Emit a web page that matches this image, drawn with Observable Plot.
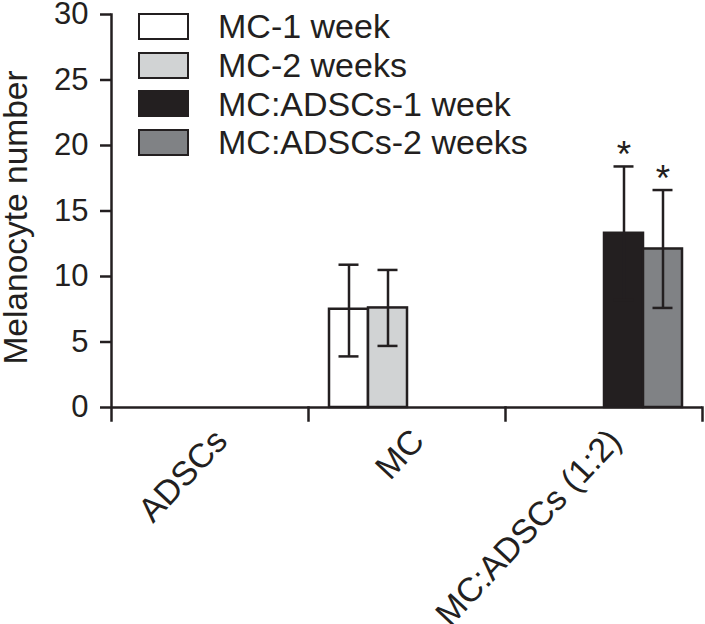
<!DOCTYPE html>
<html><head><meta charset="utf-8">
<script src="https://cdn.jsdelivr.net/npm/d3@7"></script>
<script src="https://cdn.jsdelivr.net/npm/@observablehq/plot@0.6"></script>
<style>
body{margin:0;background:#fff;}
#wrap{position:relative;width:705px;height:624px;font-family:"Liberation Sans",Arial,sans-serif;color:#231f20;}
#legend{position:absolute;left:138px;top:7px;}
.row{display:flex;align-items:center;height:38.7px;}
.sw{box-sizing:border-box;width:51px;height:27px;border:2.5px solid #231f20;margin-right:29px;}
.lab{font-size:34px;line-height:1;white-space:nowrap;}
</style></head><body><div id="wrap"><div id="legend"></div></div>
<script>
const categories = ["ADSCs", "MC", "MC:ADSCs (1:2)"];
const series = ["MC-1 week", "MC-2 weeks", "MC:ADSCs-1 week", "MC:ADSCs-2 weeks"];
const seriesColors = ["#ffffff", "#d1d3d4", "#231f20", "#808285"];
const barCategory = ["MC", "MC", "MC:ADSCs (1:2)", "MC:ADSCs (1:2)"];
const means = [7.5, 7.6, 13.3, 12.1];
const errLow = [3.9, 4.7, 8.2, 7.6];
const errHigh = [10.9, 10.5, 18.4, 16.6];
const sigMarks = ["", "", "*", "*"];
const yTicks = [0, 5, 10, 15, 20, 25, 30];
const yLabel = "Melanocyte number";

const ink = "#231f20";
const data = series.map((s, i) => ({series: s, category: barCategory[i], mean: means[i], low: errLow[i], high: errHigh[i], mark: sigMarks[i]}));

const chart = Plot.plot({
  width: 705, height: 624,
  marginLeft: 111, marginRight: 3, marginTop: 14, marginBottom: 204,
  style: {fontFamily: '"Liberation Sans", Arial, sans-serif', background: "transparent", color: ink, overflow: "visible"},
  fx: {domain: categories, padding: 0, axis: null},
  x: {domain: series, paddingInner: 0, paddingOuter: 0.5, axis: null},
  y: {domain: [0, 30], insetBottom: 13},
  color: {domain: series, range: seriesColors},
  marks: [
    Plot.barY(data, {fx: "category", x: "series", y: "mean", fill: "series", stroke: ink, strokeWidth: 2.5}),
    Plot.ruleX(data, {fx: "category", x: "series", y1: "low", y2: "high", stroke: ink, strokeWidth: 2.5}),
    Plot.tickY(data, {fx: "category", x: "series", y: "high", stroke: ink, strokeWidth: 2.5, insetLeft: 9.5, insetRight: 9.5}),
    Plot.tickY(data, {fx: "category", x: "series", y: "low", stroke: ink, strokeWidth: 2.5, insetLeft: 9.5, insetRight: 9.5}),
    Plot.text(data.filter(d => d.mark), {fx: "category", x: "series", y: "high", text: "mark", fontSize: 37, lineAnchor: "bottom", dy: 1, fill: ink}),
    Plot.ruleY([0], {stroke: ink, strokeWidth: 2.5}),
    Plot.frame({anchor: "left", facetAnchor: "left", stroke: ink, strokeWidth: 2.5}),
    Plot.frame({anchor: "right", insetTop: 393, stroke: ink, strokeWidth: 2.5}),
    Plot.axisY({ticks: yTicks, tickSize: 11, tickPadding: 12, fontSize: 31, label: null, stroke: ink, strokeWidth: 2.5, fill: ink}),
    Plot.text([yLabel], {frameAnchor: "left", facetAnchor: "left", rotate: -90, textAnchor: "middle", lineAnchor: "bottom", dx: -85, fontSize: 33.5, fill: ink}),
    Plot.text(categories, {fx: d => d, text: d => d, frameAnchor: "bottom", rotate: -47, textAnchor: "end", lineAnchor: "bottom", dx: 19, dy: 22, fontSize: 34, fill: ink})
  ]
});
document.getElementById("wrap").appendChild(chart);

const legend = document.getElementById("legend");
series.forEach((s, i) => {
  const row = document.createElement("div");
  row.className = "row";
  const sw = document.createElement("div");
  sw.className = "sw";
  sw.style.background = seriesColors[i];
  const lab = document.createElement("span");
  lab.className = "lab";
  lab.textContent = s;
  row.appendChild(sw); row.appendChild(lab);
  legend.appendChild(row);
});
</script></body></html>
